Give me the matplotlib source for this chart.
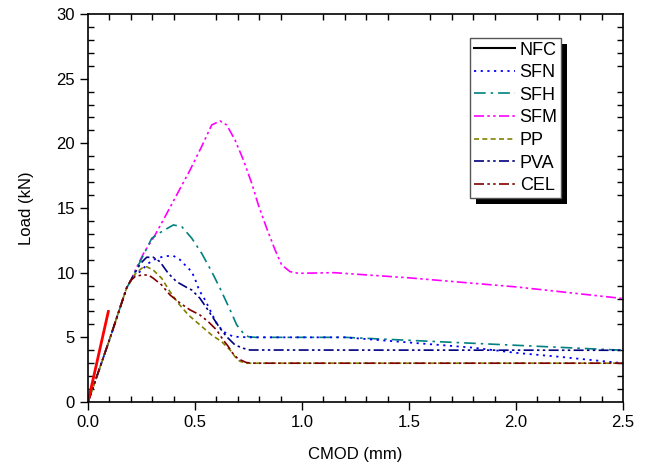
import matplotlib
matplotlib.use("Agg")
import matplotlib.pyplot as plt
from matplotlib.lines import Line2D
from matplotlib.patches import Rectangle
from matplotlib.ticker import MultipleLocator, FormatStrFormatter

plt.rcParams['font.family'] = ['Liberation Sans', 'DejaVu Sans']

# ---- data (CMOD in mm, Load in kN) ----
rise_x = [0.0, 0.05, 0.10, 0.15, 0.18, 0.20]
rise_y = [0.0, 2.4, 4.8, 7.3, 8.8, 9.4]

nfc_x = [0.0, 0.095]
nfc_y = [0.0, 7.0]

sfn_x = rise_x + [0.22, 0.243, 0.282, 0.32, 0.36, 0.399, 0.43, 0.461, 0.485, 0.505, 0.519, 0.547,
                  0.57, 0.601, 0.632, 0.679, 0.75, 1.2, 1.5, 1.8, 2.0, 2.2, 2.5]
sfn_y = rise_y + [9.8, 10.08, 10.72, 11.1, 11.28, 11.3, 11.0, 10.46, 10.08, 9.3, 8.66, 7.89,
                  7.12, 6.08, 5.44, 5.05, 5.0, 5.0, 4.6, 4.2, 3.8, 3.5, 3.0]

sfh_x = rise_x + [0.23, 0.26, 0.298, 0.344, 0.399, 0.438, 0.485, 0.531, 0.578, 0.617, 0.664,
                  0.695, 0.726, 0.749, 0.78, 1.2, 2.5]
sfh_y = rise_y + [10.4, 11.4, 12.66, 13.17, 13.69, 13.56, 12.66, 11.5, 10.08, 8.79, 7.12,
                  5.96, 5.31, 5.05, 5.0, 5.0, 4.0]

sfm_x = rise_x + [0.23, 0.26, 0.313, 0.352, 0.414, 0.477, 0.531, 0.578, 0.617, 0.648, 0.687,
                  0.726, 0.765, 0.796, 0.835, 0.874, 0.905, 0.944, 0.983, 1.15, 1.5, 2.0, 2.5]
sfm_y = rise_y + [10.5, 11.5, 12.9, 14.08, 16.0, 17.94, 19.75, 21.42, 21.73, 21.42, 20.26,
                  18.72, 16.91, 15.24, 13.43, 11.76, 10.6, 10.08, 9.95, 10.0, 9.6, 8.9, 8.0]

pp_x = rise_x + [0.22, 0.251, 0.274, 0.305, 0.344, 0.383, 0.422, 0.469, 0.523, 0.578, 0.625,
                 0.664, 0.687, 0.71, 0.74, 2.5]
pp_y = rise_y + [9.9, 10.34, 10.46, 10.2, 9.57, 8.53, 7.63, 6.73, 5.96, 5.18, 4.66,
                 4.02, 3.5, 3.15, 3.0, 3.0]

pva_x = rise_x + [0.22, 0.245, 0.274, 0.305, 0.336, 0.375, 0.414, 0.461, 0.485, 0.523, 0.555,
                  0.586, 0.617, 0.648, 0.687, 0.726, 0.757, 2.5]
pva_y = rise_y + [10.0, 10.7, 11.19, 11.19, 10.85, 9.95, 9.3, 8.86, 8.66, 8.02, 7.25,
                  6.47, 5.70, 5.05, 4.41, 4.15, 4.02, 4.0]

cel_x = rise_x + [0.22, 0.251, 0.282, 0.305, 0.344, 0.383, 0.43, 0.477, 0.523, 0.562, 0.601,
                  0.632, 0.656, 0.675, 0.70, 0.74, 0.78, 2.5]
cel_y = rise_y + [9.69, 9.82, 9.82, 9.57, 9.05, 8.28, 7.65, 7.12, 6.73, 6.21, 5.57,
                  4.79, 4.28, 3.8, 3.35, 3.05, 3.0, 3.0]

labels = ['NFC', 'SFN', 'SFH', 'SFM', 'PP', 'PVA', 'CEL']

fig = plt.figure(figsize=(6.49, 4.63), dpi=100)
ax = fig.add_axes([88/649, 1-402/463, (623-88)/649, (402-14)/463])

dashdotdot = (0, (6, 2, 1.5, 2, 1.5, 2))
styles = {
    'SFN': dict(color='#0000ff', ls=(0, (1.2, 2.5)), lw=1.3),
    'SFH': dict(color='#008080', ls=(0, (7, 3, 1.5, 3)), lw=1.2),
    'SFM': dict(color='#ff00ff', ls=dashdotdot, lw=1.2),
    'PP': dict(color='#808000', ls=(0, (3, 2)), lw=1.2),
    'PVA': dict(color='#000080', ls=dashdotdot, lw=1.2),
    'CEL': dict(color='#800000', ls=dashdotdot, lw=1.2),
}

series = [('SFM', sfm_x, sfm_y), ('SFH', sfh_x, sfh_y), ('SFN', sfn_x, sfn_y),
          ('PVA', pva_x, pva_y), ('PP', pp_x, pp_y), ('CEL', cel_x, cel_y)]
for name, xs, ys in series:
    ax.plot(xs, ys, **styles[name])
ax.plot(nfc_x, nfc_y, color='#ff0000', lw=2.0)

ax.set_xlim(0, 2.5)
ax.set_ylim(0, 30)
ax.xaxis.set_major_locator(MultipleLocator(0.5))
ax.xaxis.set_minor_locator(MultipleLocator(0.1))
ax.yaxis.set_major_locator(MultipleLocator(5))
ax.yaxis.set_minor_locator(MultipleLocator(1))
ax.xaxis.set_major_formatter(FormatStrFormatter('%.1f'))
ax.tick_params(which='major', direction='out', length=6, width=1, labelsize=12, top=False, right=False)
ax.tick_params(which='minor', direction='in', length=4, width=1, top=True, right=True)
for s in ax.spines.values():
    s.set_linewidth(1.2)
ax.set_xlabel('CMOD (mm)', fontsize=12, labelpad=12)
ax.set_ylabel('Load (kN)', fontsize=12, labelpad=16)

handles = [Line2D([], [], color='black', lw=1.5)]
for name in labels[1:]:
    st = styles[name]
    handles.append(Line2D([], [], color=st['color'], ls=st['ls'], lw=st['lw']))

leg = fig.legend(handles, labels, loc='upper left', bbox_to_anchor=(470/649, 1-38/463),
                 bbox_transform=fig.transFigure, frameon=True, fancybox=False,
                 fontsize=13, handlelength=2.3, handletextpad=0.25, labelspacing=0.31,
                 borderpad=0.2, borderaxespad=0, framealpha=1)
leg.get_frame().set_edgecolor('#555555')
leg.get_frame().set_facecolor('white')
leg.get_frame().set_linewidth(1.0)
leg.set_zorder(5)

fig.canvas.draw()
bb = leg.get_window_extent()
shadow = Rectangle((bb.x0 + 6, bb.y0 - 6), bb.width, bb.height, transform=None,
                   facecolor='black', edgecolor='none', zorder=4)
fig.patches.append(shadow)

fig.savefig('out.png', dpi=100)
